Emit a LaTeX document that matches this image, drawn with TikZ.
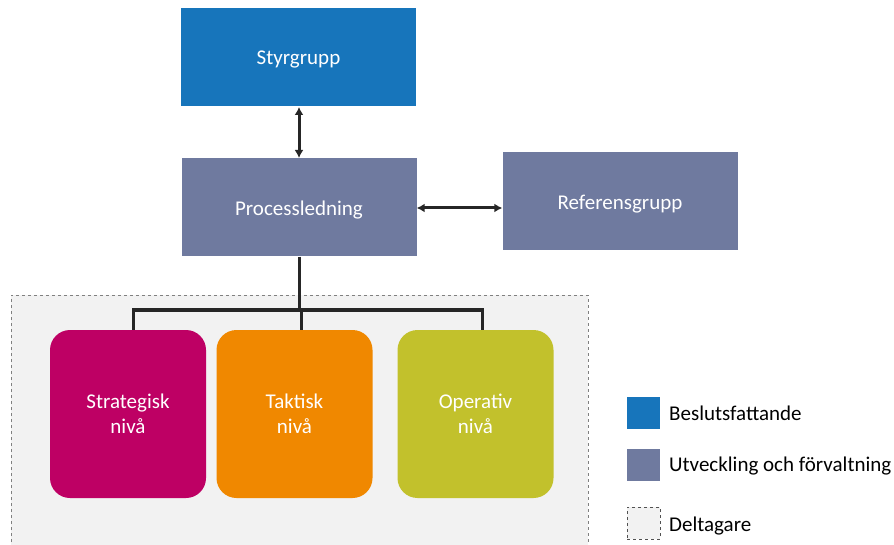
\documentclass[tikz,border=0pt]{standalone}
\usepackage{fontspec}
\setmainfont{Carlito}
\usetikzlibrary{arrows.meta}
\definecolor{beslut}{HTML}{1775BB}
\definecolor{utv}{HTML}{6F7A9F}
\definecolor{strat}{HTML}{BE0064}
\definecolor{takt}{HTML}{F08800}
\definecolor{oper}{HTML}{C2C12C}
\definecolor{delt}{HTML}{F2F2F2}
\definecolor{linec}{HTML}{262626}
\begin{document}
\begin{tikzpicture}[x=1pt,y=-1pt,
  box/.style={draw=none,minimum width=235pt,minimum height=98pt,inner sep=0pt,text=white,font=\fontsize{21}{25}\selectfont},
  lvl/.style={draw=none,rounded corners=20pt,minimum width=156pt,minimum height=168pt,inner sep=0pt,text=white,align=center,font=\fontsize{21}{25}\selectfont},
  conn/.style={draw=linec,line width=3pt},
  biarrow/.style={conn,{Latex[length=8pt,width=9pt]}-{Latex[length=8pt,width=9pt]}},
  legsq/.style={minimum width=33pt,minimum height=32pt,inner sep=0pt},
  legtxt/.style={anchor=west,inner sep=0pt,font=\fontsize{21}{25}\selectfont,text=black}
]
\useasboundingbox (0,0) rectangle (894,545);
% participants area
\fill[delt] (11,295) rectangle (588,548);
\draw[gray,dashed,line width=0.9pt] (11,548) -- (11,295) -- (588,295) -- (588,548);
% main boxes
\node[box,fill=beslut] (styr) at (298.5,57) {};
\node[text=white,font=\fontsize{21}{25}\selectfont] (styrt) at (298.5,59) {Styrgrupp};
\node[box,fill=utv] (proc) at (299,207.5) {};
\node[text=white,font=\fontsize{21}{25}\selectfont] (proct) at (299,210) {Processledning};
\node[box,fill=utv] (ref) at (620,201.5) {};
\node[text=white,font=\fontsize{21}{25}\selectfont] (reft) at (620,204) {Referensgrupp};
% level boxes
\node[lvl,fill=strat] (strat) at (128,414) {Strategisk\\nivå};
\node[lvl,fill=takt] (takt) at (294.5,414) {Taktisk\\nivå};
\node[lvl,fill=oper] (oper) at (475.5,414) {Operativ\\nivå};
% arrows
\coordinate (a1) at (299,107);
\coordinate (a2) at (299,158);
\draw[biarrow] (a1) -- (a2);
\draw[biarrow] (proc.east |- 0,208) -- (ref.west |- 0,208);
% tree
\coordinate (bar) at (299,310);
\draw[conn] (proc.south -| bar) -- (bar);
\draw[conn] (bar -| 301,0) -- (takt.north -| 301,0);
\draw[conn] (strat.north -| 133,0) -- (133,310) -- (482,310) -- (oper.north -| 482,0);
% legend
\node[legsq,fill=beslut] (l1) at (643.5,413) {};
\node[legtxt] (t1) at (669,413) {Beslutsfattande};
\node[legsq,fill=utv] (l2) at (643.5,464.5) {};
\node[legtxt] (t2) at (669,466) {Utveckling och förvaltning};
\node[legsq,fill=delt,draw=linec!80,dashed,line width=0.9pt] (l3) at (643.5,523) {};
\node[legtxt] (t3) at (669,526) {Deltagare};
\end{tikzpicture}
\end{document}
